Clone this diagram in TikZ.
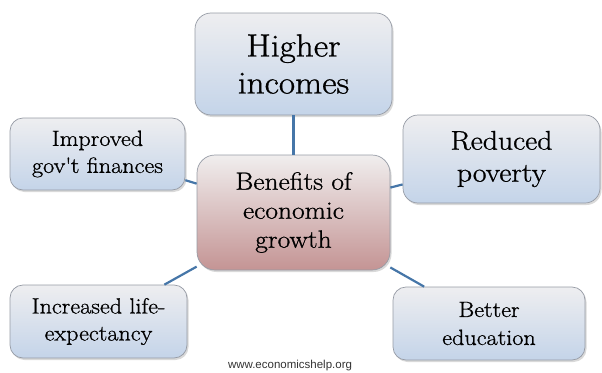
\documentclass[tikz,border=0pt]{standalone}
\usepackage{fontspec}
\setmainfont{Latin Modern Roman}[FakeStretch=1.1, FakeBold=0.9]
\newfontfamily\webfont{Liberation Sans}
\usepackage{xcolor}
\usepackage{tikz}
\usetikzlibrary{shadows}

\definecolor{boxtop}{RGB}{238,238,240}
\definecolor{boxbot}{RGB}{196,212,233}
\definecolor{maintop}{RGB}{240,238,238}
\definecolor{mainbot}{RGB}{196,148,148}
\definecolor{boxline}{RGB}{150,155,165}
\definecolor{linkblue}{RGB}{70,118,168}

\begin{document}
\begin{tikzpicture}[x=1pt, y=-1pt]
        % Define styles
        \tikzset{
            box/.style={rectangle, rounded corners=13pt, draw=boxline, line width=0.7pt, top color=boxtop, bottom color=boxbot, align=center, inner sep=0pt, drop shadow={opacity=0.3, shadow xshift=1.5pt, shadow yshift=-2pt}},
            mainbox/.style={box, rounded corners=18pt, top color=maintop, bottom color=mainbot},
            link/.style={draw=linkblue, line width=2.2pt}
        }
        \useasboundingbox (0,0) rectangle (602,372);
        \clip (0,0) rectangle (602,372);

        % Nodes
        \node[mainbox, minimum width=193pt, minimum height=115pt, font=\fontsize{25}{29}\selectfont] (center_node) at (293.5,212.5) {Benefits of\\economic\\growth};
        \node[box, rounded corners=16pt, minimum width=197pt, minimum height=102pt, font=\fontsize{32}{37}\selectfont] (incomes_node) at (293.5,64) {Higher\\incomes};
        \node[box, minimum width=175pt, minimum height=72pt, font=\fontsize{22}{27}\selectfont] (finances_node) at (97.5,154) {Improved\\gov\textquotesingle t finances};
        \node[box, rounded corners=15pt, minimum width=197pt, minimum height=88pt, font=\fontsize{27}{32}\selectfont] (poverty_node) at (501.5,159) {Reduced\\poverty};
        \node[box, minimum width=177pt, minimum height=73pt, font=\fontsize{22}{27}\selectfont] (life_node) at (98.5,321.5) {Increased life-\\expectancy};
        \node[box, minimum width=192pt, minimum height=73pt, font=\fontsize{22}{28}\selectfont] (education_node) at (489,323.5) {Better\\education};
        \node[anchor=base, text=black!80, font=\webfont\fontsize{11.5}{13}\selectfont] (footer_node) at (290,368.5) {www.economicshelp.org};

        % Links
        \draw[link] (incomes_node) -- (center_node);
        \draw[link] (finances_node) -- (center_node);
        \draw[link] (poverty_node) -- (center_node);
        \draw[link] (life_node) -- (center_node);
        \draw[link] (education_node) -- (center_node);
    \end{tikzpicture}
\end{document}
